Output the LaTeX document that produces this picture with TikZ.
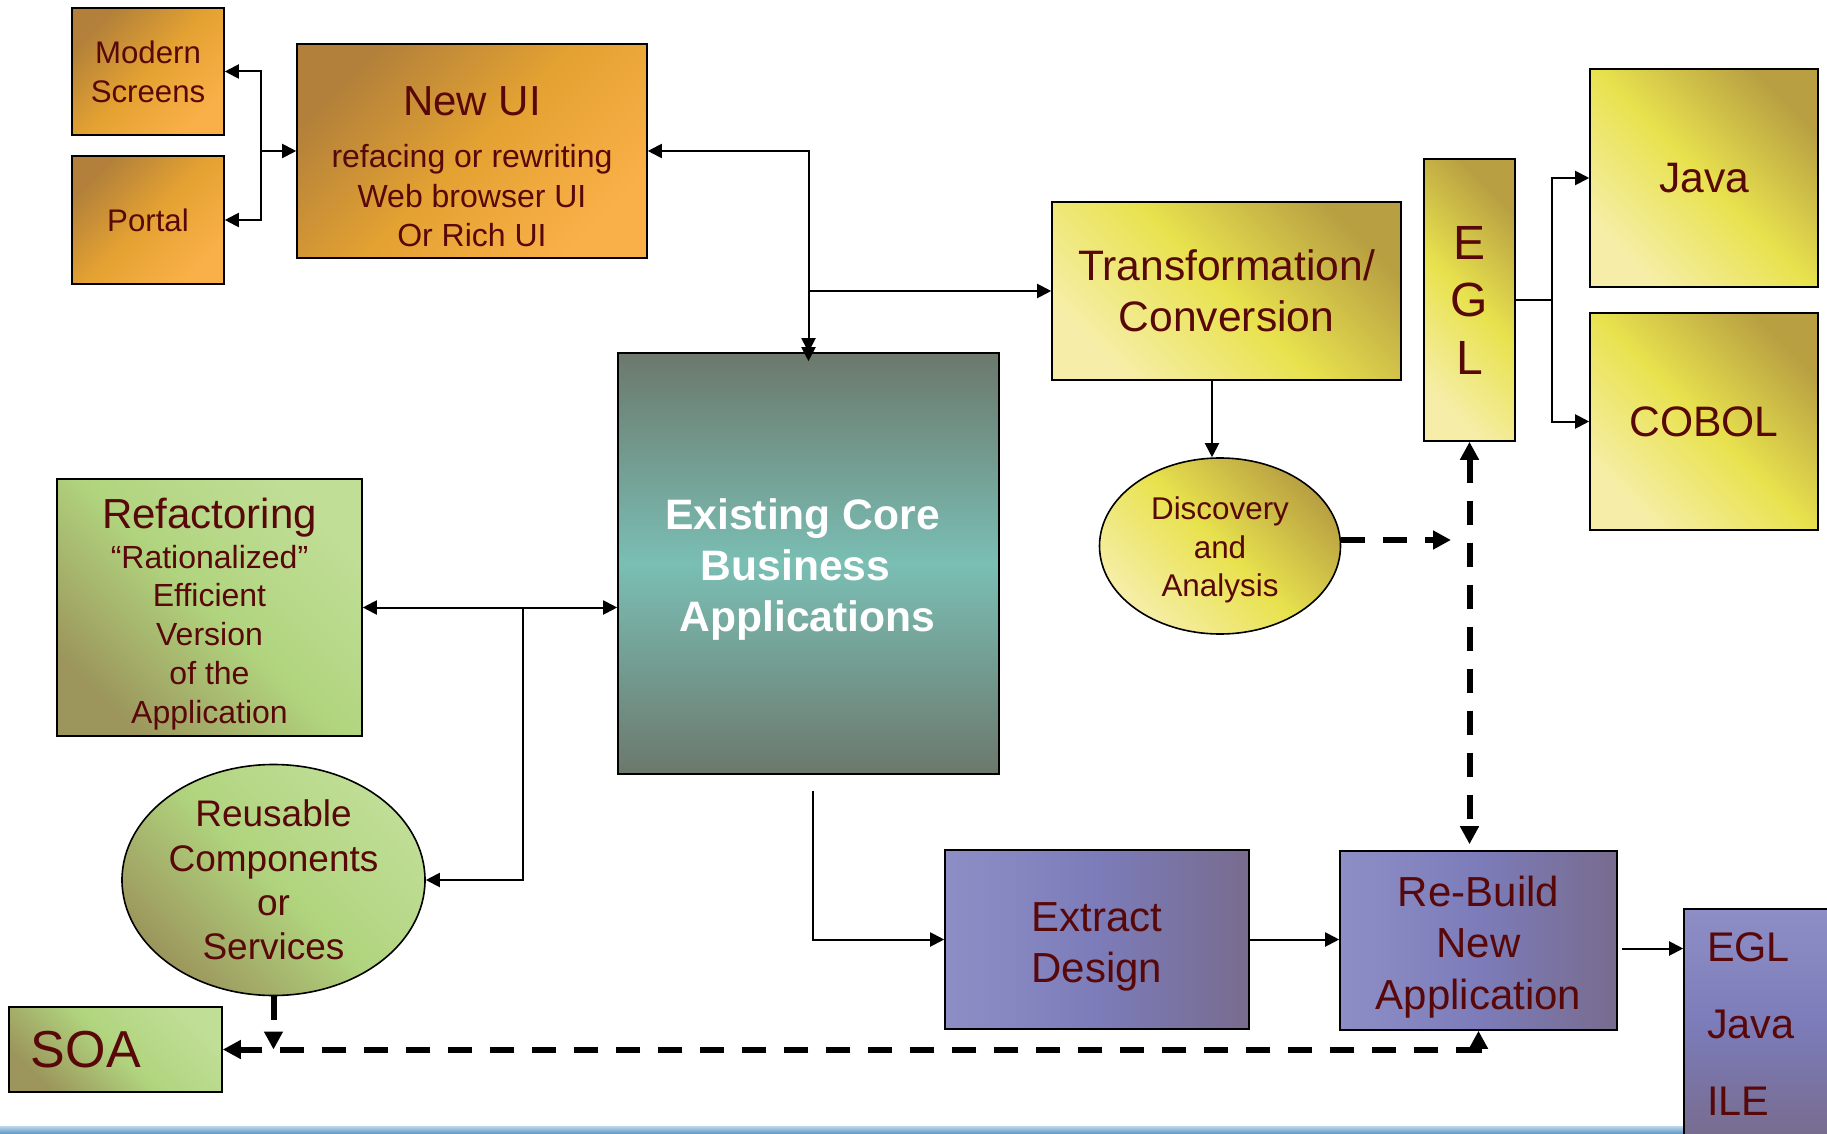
\documentclass[tikz,border=0pt]{standalone}
\usepackage{fontspec}
\setmainfont{Liberation Sans}
\usepackage{tikz}
\usetikzlibrary{arrows.meta,shapes.geometric,positioning}

\definecolor{txt}{RGB}{88,8,8}
\definecolor{orA}{RGB}{178,128,58}
\definecolor{orB}{RGB}{228,162,50}
\definecolor{orC}{RGB}{250,176,72}
\definecolor{yeA}{RGB}{184,160,66}
\definecolor{yeB}{RGB}{232,226,78}
\definecolor{yeC}{RGB}{246,238,168}
\definecolor{grA}{RGB}{192,222,150}
\definecolor{grB}{RGB}{176,212,126}
\definecolor{grC}{RGB}{156,150,92}
\definecolor{teA}{RGB}{108,120,108}
\definecolor{teB}{RGB}{122,190,180}
\definecolor{puA}{RGB}{142,142,198}
\definecolor{puB}{RGB}{124,124,186}
\definecolor{puC}{RGB}{120,108,142}
\definecolor{blA}{RGB}{190,215,235}
\definecolor{blB}{RGB}{88,148,196}

\begin{document}
\begin{tikzpicture}[x=0.5pt,y=-0.5pt,>={Triangle[length=7pt,width=7pt]},line width=1pt,node distance=74.25pt,
  box/.style={draw,line width=0.8pt,inner sep=0pt,align=center,text=txt},
  orbox/.style={box,top color=orA,bottom color=orC,middle color=orB,shading angle=45},
  yebox/.style={box,top color=yeA,bottom color=yeC,middle color=yeB,shading angle=-45},
  grbox/.style={box,top color=grA,bottom color=grC,middle color=grB,shading angle=-45},
  pubox/.style={box,left color=puA,right color=puC,middle color=puB,shading angle=90},
  dashline/.style={line width=3pt,dash pattern=on 12pt off 9pt,>={Triangle[length=9pt,width=9pt]}}]

\fill[white] (0,0) rectangle (1827,1134);
\useasboundingbox (0,0) rectangle (1827,1134);
\shade[top color=blA,bottom color=blB] (0,1126) rectangle (1827,1134);

\node[orbox,minimum width=76pt,minimum height=63.5pt,font=\fontsize{15.6}{19.5}\selectfont] (ModSc) at (148,71.5) {Modern\\Screens};
\node[orbox,minimum width=76pt,minimum height=64pt,font=\fontsize{15.6}{19.5}\selectfont] (Portal) [below of=ModSc] {Portal};
\node[orbox,minimum width=175pt,minimum height=107pt,font=\fontsize{16}{19.8}\selectfont] (NewUI) at (472,151) {{\fontsize{21}{25}\selectfont\rule{0pt}{30.5pt}New UI}\\[6pt]refacing or rewriting\\Web browser UI\\Or Rich UI};

\node[yebox,minimum width=174.5pt,minimum height=89pt,font=\fontsize{21.3}{25.5}\selectfont] (Trans) at (1226.5,291) {Transformation/\\Conversion};
\node[yebox,minimum width=45.5pt,minimum height=141pt,font=\fontsize{24}{28.75}\selectfont] (EGL) at (1469.5,300) {E\\G\\L};
\node[yebox,minimum width=114pt,minimum height=109pt,font=\fontsize{21.3}{25}\selectfont] (Java) at (1704,178) {Java};
\node[yebox,minimum width=114pt,minimum height=108.5pt,font=\fontsize{21.3}{25}\selectfont] (COBOL) [below of=Java,node distance=121.75pt] {COBOL};
\node[yebox,ellipse,minimum width=120.5pt,minimum height=88pt,font=\fontsize{15.7}{19.3}\selectfont] (Disc) at (1220,546) {\rule{0pt}{15.5pt}Discovery\\and\\Analysis};

\node[box,top color=teA,bottom color=teA,middle color=teB,minimum width=190.5pt,minimum height=210.5pt,text=white,font=\bfseries\fontsize{21.3}{25.5}\selectfont] (Exist) at (808.5,563.5) {\rule{0pt}{21.3pt}Existing Core\rule{6pt}{0pt}\\Business\rule{13pt}{0pt}\\Applications\rule{1pt}{0pt}};

\node[grbox,minimum width=152.5pt,minimum height=128.5pt,font=\fontsize{16}{19.35}\selectfont] (Refac) at (209.5,607.5) {{\fontsize{21}{25}\selectfont\rule{0pt}{21.5pt}Refactoring}\\[0.65pt]“Rationalized”\\Efficient\\Version\\of the\\Application};
\node[grbox,ellipse,minimum width=151.5pt,minimum height=115.5pt,inner sep=-6pt,font=\fontsize{18.5}{22.2}\selectfont] (Reuse) at (273.5,880) {Reusable\\Components\\or\\Services};
\node[grbox,minimum height=42.5pt,text width=84.5pt,inner xsep=11pt,align=left,font=\fontsize{26}{30}\selectfont] (SOA) at (115.5,1049.5) {SOA};

\node[pubox,minimum width=152pt,minimum height=89.5pt,font=\fontsize{21}{25.5}\selectfont] (Extract) at (1097,939.5) {\rule{0pt}{21.5pt}Extract\\Design};
\node[pubox,minimum width=138.5pt,minimum height=89.5pt,font=\fontsize{21}{25.75}\selectfont] (Rebuild) at (1478.5,940.5) {\rule{0pt}{21.5pt}Re-Build\\New\\Application};
\node[box,top color=puA,bottom color=puC,middle color=puB,minimum height=115pt,text width=55pt,inner xsep=11.5pt,align=left,font=\fontsize{20.7}{38.5}\selectfont] (Target) at (1762,1024) {EGL\\Java\\ILE};

\coordinate (uiJ) at (261,151);
\coordinate (topJ) at (808.5,291);
\coordinate (eglJ) at (1552,300);
\coordinate (refJ) at (523,607.5);
\coordinate (discTip) at (1451,540);
\path ([yshift=3pt]Rebuild.north) coordinate (rbTop);
\path ([xshift=2pt,yshift=-8pt]Exist.south) coordinate (exOut);
\path ([xshift=2pt,yshift=-4pt]Rebuild.east) coordinate (rbOut);

\draw[<->] (ModSc) -| (uiJ) |- (Portal);
\draw[->] (uiJ) -- (NewUI);
\draw[<->] (NewUI) -| (Exist);
\draw[->] (topJ) -- ([yshift=-4.5pt]Exist.north);
\draw[->] (topJ) -- (Trans);
\draw[->] ([xshift=-7.25pt]Trans.south) -- ([xshift=-4pt]Disc.north);
\draw (EGL) -- (eglJ);
\draw[->] (eglJ) |- (Java);
\draw[->] (eglJ) |- (COBOL);
\draw[<->] (Refac) -- (Refac -| Exist.west);
\draw[->] (refJ) |- (Reuse);
\draw[->] (exOut) |- (Extract);
\draw[->] (Extract) -- (Extract -| Rebuild.west);
\draw[->] (rbOut) -- (rbOut -| Target.west);

\draw[dashline,->] (Disc.east |- discTip) -- (discTip);
\draw[dashline,<->] (EGL) -- (EGL.south |- rbTop);
\draw[dashline,<->] (Rebuild) |- (SOA);
\draw[dashline,->] (Reuse) -- (Reuse |- SOA);
\end{tikzpicture}
\end{document}
